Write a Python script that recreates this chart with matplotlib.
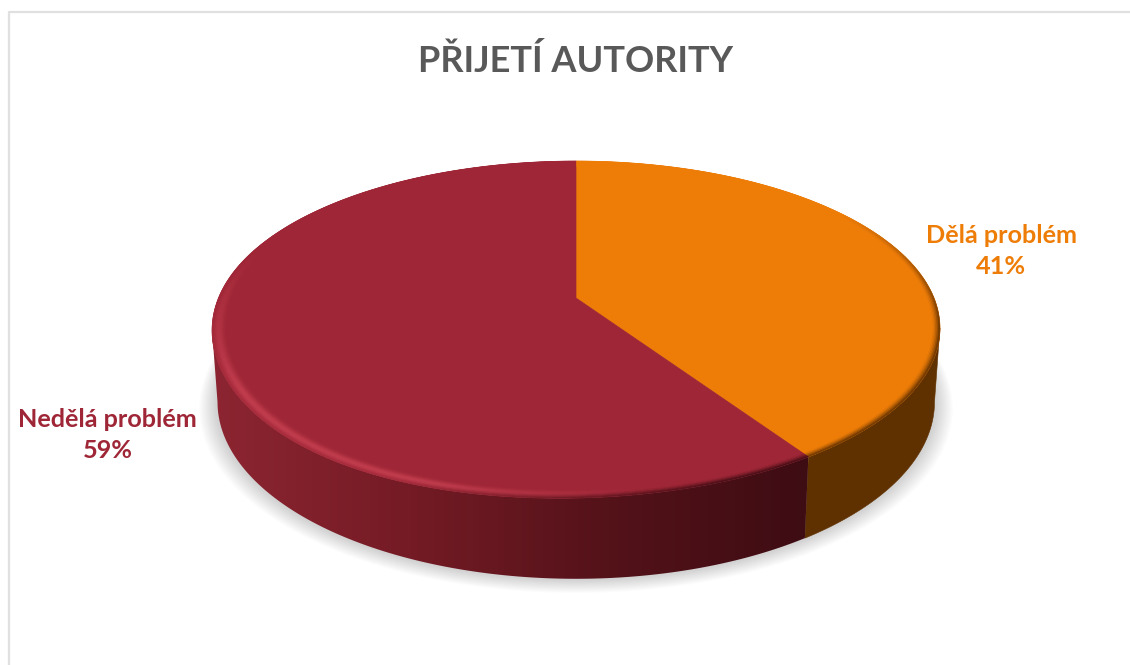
import numpy as np
import matplotlib
matplotlib.use("Agg")
from matplotlib import pyplot as plt
from matplotlib.collections import PolyCollection
from matplotlib.colors import to_rgb, LinearSegmentedColormap

title = "PŘIJETÍ AUTORITY"
labels = ["Dělá problém", "Nedělá problém"]
shares = [40.7, 59.3]  # shown rounded, 41 % and 59 %
colors = ["#EE7D08", "#9E2636"]

# pie geometry in pixels, circle seen in perspective
CX, CY = 576, 298
RX, RY, PERSP = 358, 161.6, 0.18

plt.rcParams["font.family"] = ["Lato", "DejaVu Sans"]
fig = plt.figure(figsize=(11.3, 6.65), dpi=100)
ax = fig.add_axes([0, 0, 1, 1])
ax.axis("off")


def top_xy(theta, r=1.0):
    # theta runs clockwise from 12 o'clock
    x, y = r * np.sin(theta), r * np.cos(theta)
    w = 1 + PERSP * y
    # the original rim sags a little at the front left
    sag = 8 * r * np.exp(-((theta - np.radians(218)) / np.radians(38)) ** 2)
    return CX + RX * x / w, CY - RY * y / w + sag


def bottom_xy(theta, grow=0.0):
    x, y = np.sin(theta), np.cos(theta)
    w = 1 + PERSP * y
    depth = 72 / (1 + 0.14 * y)
    return (CX + (0.985 * RX + grow) * x / w,
            CY - (RY + grow * 0.4) * y / w + depth + grow * 0.3)


def mix(a, b, t):
    return a[None, :] * (1 - t[:, None]) + b[None, :] * t[:, None]


split = 2 * np.pi * shares[0] / sum(shares)
# where the outline is widest, the wall has to start there
tangent = np.arccos(-PERSP)

# soft shadow below the pie
ang = np.linspace(0, 2 * np.pi, 300)
for grow in np.linspace(18, 1, 16):
    sx, sy = bottom_xy(ang, grow)
    ax.fill(sx, sy, color="#808080", alpha=0.024, lw=0, zorder=1)

# side wall: orange part is flat, red part has a gradient
t_o = np.linspace(tangent, split, 150)
tx, ty = top_xy(t_o)
bx, by = bottom_xy(t_o)
ax.fill(np.r_[tx, bx[::-1]], np.r_[ty, by[::-1]], color="#5F3000", lw=0.4, zorder=2)

t_r = np.linspace(split, 2 * np.pi - tangent, 250)
tx, ty = top_xy(t_r)
bx, by = bottom_xy(t_r)
wall_cmap = LinearSegmentedColormap.from_list("wall", ["#3E0C13", "#541219", "#741B25", "#8C2531"])
grad = ax.imshow(np.linspace(1, 0, 256)[None, :], extent=(212, 808, 600, 300), aspect="auto",
                 cmap=wall_cmap, zorder=2)
clip = ax.fill(np.r_[tx, bx[::-1]], np.r_[ty, by[::-1]], color="none", lw=0, zorder=2)[0]
grad.set_clip_path(clip)

# flat top of both slices
start = 0
for share, col in zip(shares, colors):
    end = start + 2 * np.pi * share / sum(shares)
    t = np.linspace(start, end, 200)
    px, py = top_xy(t)
    ax.fill(np.r_[CX, px], np.r_[CY, py], color=col, lw=0.5, zorder=3)
    start = end

# bevel along the rim
rings = np.linspace(0.955, 1.0, 13)
arc = np.linspace(0, 2 * np.pi, 721)
a0, a1 = arc[:-1], arc[1:]
mid = (a0 + a1) / 2
orange, red = np.array(to_rgb(colors[0])), np.array(to_rgb(colors[1]))
light = np.array(to_rgb("#C43F50"))
dark_r, dark_o = np.array(to_rgb("#3E0C13")), np.array(to_rgb("#5F3000"))
for r0, r1 in zip(rings[:-1], rings[1:]):
    u = ((r0 + r1) / 2 - rings[0]) / (rings[-1] - rings[0])
    q = np.stack([np.c_[*top_xy(a0, r0)], np.c_[*top_xy(a1, r0)],
                  np.c_[*top_xy(a1, r1)], np.c_[*top_xy(a0, r1)]], axis=1)
    # light band on the left front, dark edge towards the right
    hi = np.clip((mid - np.radians(170)) / np.radians(30), 0, 1) * np.clip((np.radians(290) - mid) / np.radians(50), 0, 1)
    lo_r = np.clip((np.radians(205) - mid) / np.radians(45), 0, 1)
    lo_o = np.clip((mid - np.radians(55)) / np.radians(45), 0, 1)
    band = np.exp(-((u - 0.62) / 0.3) ** 2)
    edge = max(0.0, (u - 0.55) / 0.45) ** 1.5
    c_red = mix(red, light, hi * band * 0.95)
    c_red = c_red * (1 - (lo_r * edge)[:, None]) + dark_r * (lo_r * edge)[:, None]
    c_org = mix(orange, dark_o, lo_o * edge)
    cols = np.where((mid < split)[:, None], c_org, c_red)
    ax.add_collection(PolyCollection(q, facecolors=cols, edgecolors=cols, linewidths=0.3, zorder=4))

# chart frame, only left and top show
ax.plot([8.5, 8.5, 1130], [665, 12, 12], color="#E0E0E0", lw=1.6, zorder=0)

ax.text(575, 61, title, ha="center", va="center", fontsize=26, fontweight="bold", color="#595959")
ax.text(1001, 251, f"{labels[0]}\n{shares[0]:.0f}%", ha="center", va="center", fontsize=18.2,
        fontweight="bold", color=colors[0], linespacing=1.42)
ax.text(107.5, 435, f"{labels[1]}\n{shares[1]:.0f}%", ha="center", va="center", fontsize=18.2,
        fontweight="bold", color=colors[1], linespacing=1.42)

ax.set_xlim(0, 1130)
ax.set_ylim(665, 0)
fig.savefig("out.png", dpi=100, facecolor="white")
